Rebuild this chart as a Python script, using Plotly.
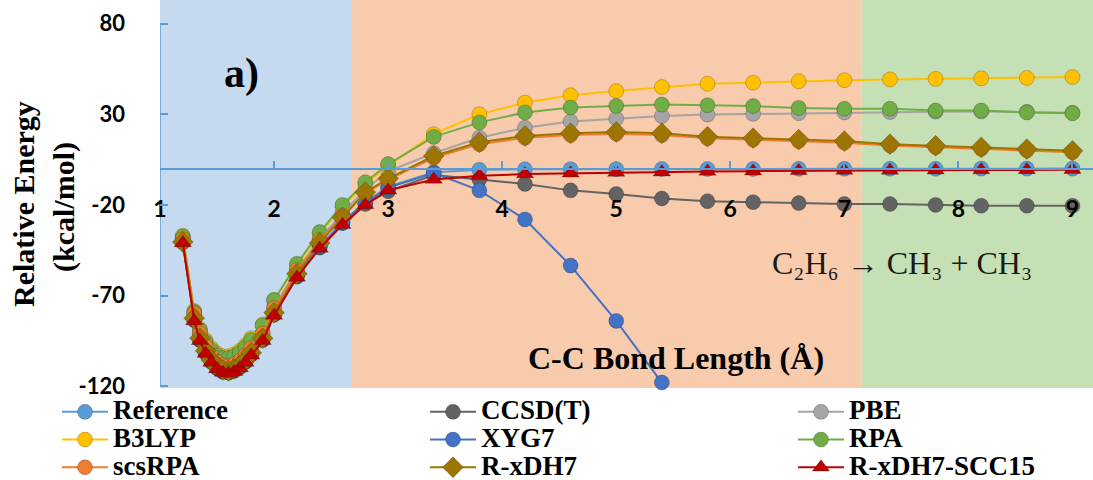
import plotly.graph_objects as go

# ---------------- data ----------------
bond_length = [1.2, 1.3, 1.35, 1.4, 1.45, 1.5, 1.55, 1.6, 1.65, 1.7, 1.75, 1.8, 1.9, 2.0,
               2.2, 2.4, 2.6, 2.8, 3.0,
               3.4, 3.8, 4.2, 4.6, 5.0, 5.4, 5.8, 6.2, 6.6, 7.0, 7.4, 7.8, 8.2, 8.6, 9.0]

reference = [-40.5, -83.5, -94.5, -101.5, -106.5, -110, -112, -112.5, -111.5, -109.5, -106.5, -102.5, -94.5, -80.5,
             -59.5, -43.5, -30, -19, -10,
             -2, -0.6, -0.4, -0.3, -0.3, -0.2, -0.2, -0.2, -0.1, -0.1, -0.1, -0.1, 0, 0, 0]

ccsdt = [-40.5, -83.5, -94.5, -101.5, -106.5, -110, -112, -112.5, -111.5, -109.5, -106.5, -102.5, -94.5, -80.5,
         -59.5, -43.5, -30, -19.5, -12.5,
         -3.5, -6, -8.5, -12, -14, -16.5, -18, -18.5, -19, -19.5, -19.5, -20, -20.5, -20.5, -20.5]

pbe = [-38.5, -80.5, -91, -98, -102.5, -106, -108, -108.5, -107.5, -105.5, -102.5, -98.5, -90.5, -76.5,
       -56, -39, -24.5, -11.5, -1.5,
       8.5, 17, 22.5, 26, 27.5, 29, 29.8, 30.2, 30.6, 31, 31.2, 31.4, 31.5, 31.3, 30.8]

b3lyp = [-37, -78.5, -88.5, -94.5, -99, -102, -103.5, -103.5, -102.5, -100.5, -97.5, -93.5, -86, -72.5,
         -53.5, -36, -21, -8.5, 1.5,
         19, 30, 36.4, 40.5, 42.8, 45, 46.8, 47.4, 48.2, 48.8, 49.2, 49.5, 49.8, 50, 50.5]

xyg7 = [-40, -83, -94, -101, -106, -109.5, -111.5, -112, -111, -109, -106, -102, -94, -80,
        -59, -43, -29.5, -18.5, -10.5,
        -2.5, -12, -28, -53.5, -84, -118, None, None, None, None, None, None, None, None, None]

rpa = [-37.5, -79, -89, -95.5, -100, -103, -104.5, -104.5, -103.5, -101.5, -98.5, -94.5, -86.5, -72.5,
       -52.5, -35, -20, -7.5, 2.5,
       17.5, 25.5, 31, 33.7, 34.6, 35.3, 35, 34.5, 33.5, 33, 33, 32, 32, 31, 30.5]

scsrpa = [-39, -80, -91, -98, -103, -106.5, -108.5, -109, -108, -106, -103, -99, -91, -77,
          -56, -39.5, -26, -13.5, -6,
          6, 13.5, 17, 18.5, 19.2, 18.5, 16.8, 16, 15.2, 14.3, 12.8, 11.8, 10.9, 10, 9]

rxdh7 = [-40.5, -82.5, -93.5, -100.5, -105.5, -109, -111, -111.5, -110.5, -108.5, -105.5, -101.5, -93.5, -79.5,
         -58, -41, -27, -13, -5.5,
         7, 14.5, 18, 19.5, 20.2, 19.5, 17.6, 16.8, 16, 15.2, 13.5, 12.6, 11.7, 10.8, 9.8]

rxdh7_scc15 = [-41, -84, -95, -102, -107, -110.5, -112.5, -113, -112, -110, -107, -103, -95, -81,
               -60, -44, -31, -20, -12,
               -6, -4, -3, -2.6, -2.2, -2, -1.6, -1.4, -1.2, -1.1, -1, -0.9, -0.8, -0.7, -0.6]

series_names = ["Reference", "CCSD(T)", "PBE", "B3LYP", "XYG7", "RPA", "scsRPA", "R-xDH7", "R-xDH7-SCC15"]
series_values = [reference, ccsdt, pbe, b3lyp, xyg7, rpa, scsrpa, rxdh7, rxdh7_scc15]

x_ticks = [1, 2, 3, 4, 5, 6, 7, 8, 9]
y_ticks = [-120, -70, -20, 30, 80]

# ---------------- styles ----------------
styles = {
    "Reference":    dict(color="#5B9BD5", symbol="circle", legend="legend"),
    "CCSD(T)":      dict(color="#636363", symbol="circle", legend="legend2"),
    "PBE":          dict(color="#A5A5A5", symbol="circle", legend="legend3"),
    "B3LYP":        dict(color="#FFC000", symbol="circle", legend="legend"),
    "XYG7":         dict(color="#4472C4", symbol="circle", legend="legend2"),
    "RPA":          dict(color="#70AD47", symbol="circle", legend="legend3"),
    "scsRPA":       dict(color="#ED7D31", symbol="circle", legend="legend"),
    "R-xDH7":       dict(color="#9C7600", symbol="diamond", legend="legend2"),
    "R-xDH7-SCC15": dict(color="#C00000", symbol="triangle-up", legend="legend3"),
}

W, H = 1093, 480
ML, MR, MT, MB = 160, 0, 0, 92
PW, PH = W - ML - MR, H - MT - MB


def px_x(p):
    return (p - ML) / PW


def px_y(p):
    return (PH + MT - p) / PH


SERIF = "Liberation Serif"
SANS = "Lato"
AXIS_BLUE = "#5B9BD5"

fig = go.Figure()
for name, vals in zip(series_names, series_values):
    st = styles[name]
    fig.add_trace(go.Scatter(
        x=bond_length, y=vals, mode="lines+markers",
        name='<span style="font-size:27px">%s</span>' % name,
        legend=st["legend"],
        line=dict(color=st["color"], width=2),
        marker=dict(color=st["color"], size=15 if st["symbol"] != "diamond" else 16,
                    symbol=st["symbol"], line=dict(width=0.6, color="rgba(0,0,0,0.35)")),
        cliponaxis=False,
        connectgaps=False,
    ))

x_range = [1, 9.18]
y_range = [-121, 93]

shapes = [
    dict(type="rect", xref="x", yref="paper", x0=0.98, x1=2.683, y0=0, y1=1,
         fillcolor="#C5D9EF", line=dict(width=0), layer="below"),
    dict(type="rect", xref="x", yref="paper", x0=2.683, x1=7.153, y0=0, y1=1,
         fillcolor="#F8CBAD", line=dict(width=0), layer="below"),
    dict(type="rect", xref="x", yref="paper", x0=7.153, x1=x_range[1], y0=0, y1=1,
         fillcolor="#C5E0B4", line=dict(width=0), layer="below"),
    dict(type="line", xref="x", yref="y", x0=1, x1=1, y0=y_ticks[0], y1=y_ticks[-1],
         line=dict(color=AXIS_BLUE, width=1.5), layer="below"),
]


def label(text, cx, cy, size, bold=True, angle=0, color="black"):
    return dict(text=text, x=px_x(cx), y=px_y(cy), xref="paper", yref="paper",
                xanchor="center", yanchor="middle", showarrow=False, textangle=angle,
                font=dict(family=SERIF, size=size, color=color,
                          weight="bold" if bold else "normal"))


annotations = [
    label("a)", 241, 73, 42),
    label("C-C Bond Length (Å)", 676, 358, 32),
    label("C₂H₆ → CH₃ + CH₃", 902, 263, 32, bold=False, color="#1a1a1a"),
    label("Relative Energy", 23, 204, 30, angle=-90),
    label("(kcal/mol)", 64, 207, 30, angle=-90),
]

legend_common = dict(
    orientation="v", xanchor="left", yanchor="top", y=px_y(393),
    bgcolor="rgba(0,0,0,0)", borderwidth=0, itemwidth=46,
    font=dict(family=SERIF, size=19, color="black", weight="bold"),
    tracegroupgap=0,
)

fig.update_layout(
    width=W, height=H,
    margin=dict(l=ML, r=MR, t=MT, b=MB, pad=0, autoexpand=False),
    paper_bgcolor="white", plot_bgcolor="white",
    showlegend=True,
    legend=dict(x=px_x(57), **legend_common),
    legend2=dict(x=px_x(425), **legend_common),
    legend3=dict(x=px_x(793), **legend_common),
    xaxis=dict(
        range=x_range, tickmode="array", tickvals=x_ticks, ticktext=[str(v) for v in x_ticks],
        showgrid=False, zeroline=False, showline=True, linecolor=AXIS_BLUE, linewidth=1.5,
        ticks="inside", ticklen=7, tickcolor=AXIS_BLUE, tickwidth=1.5,
        anchor="free", position=(0 - y_range[0]) / (y_range[1] - y_range[0]),
        tickfont=dict(family=SANS, size=23, color="black", weight="bold"),
        ticklabelstandoff=20, automargin=False,
    ),
    yaxis=dict(
        range=y_range, tickmode="array", tickvals=y_ticks, ticktext=[str(v) for v in y_ticks],
        showgrid=False, zeroline=False, showline=False,
        ticks="inside", ticklen=8, tickcolor=AXIS_BLUE, tickwidth=1.5,
        tickfont=dict(family=SANS, size=22, color="black", weight="bold"),
        ticklabelstandoff=34, automargin=False,
    ),
    shapes=shapes,
    annotations=annotations,
)

fig.write_html("out.html", config={"displayModeBar": False},
               post_script="document.body.style.margin='0';document.body.style.overflow='hidden';")
